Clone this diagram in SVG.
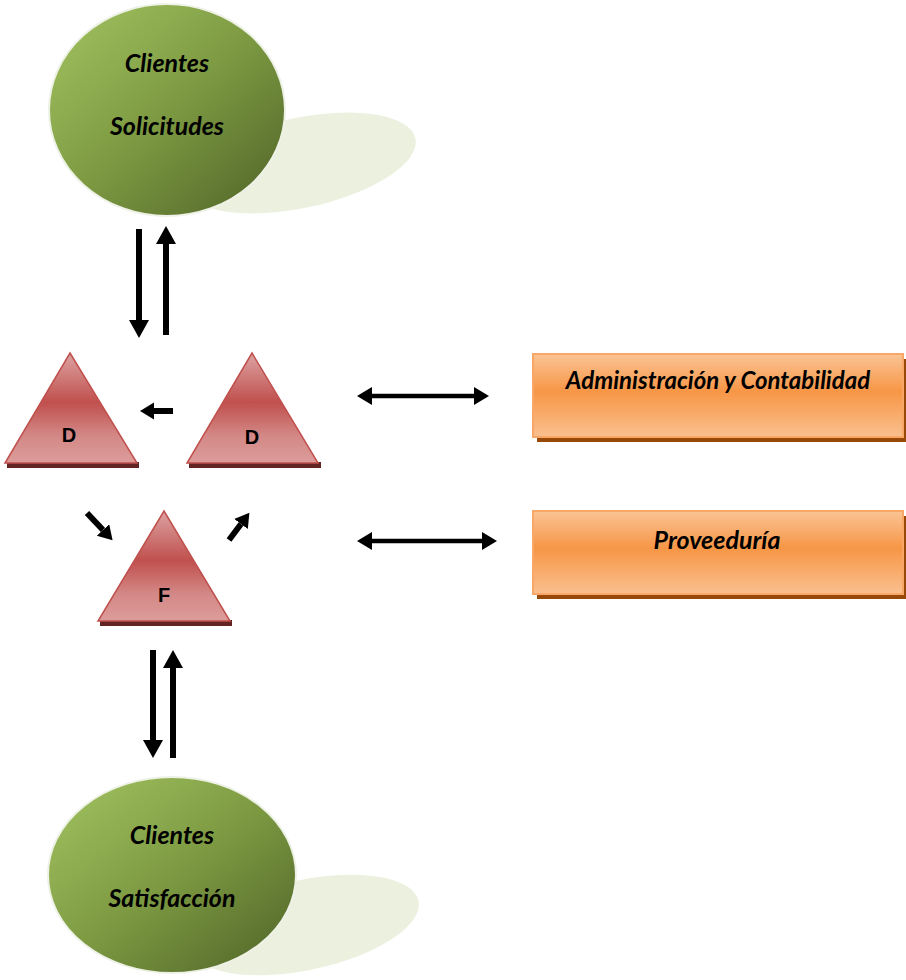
<svg xmlns="http://www.w3.org/2000/svg" width="906" height="980" viewBox="0 0 906 980">
<defs>
<style>
.lbl{font-family:Lato,"Liberation Sans",sans-serif;font-weight:bold;font-style:italic;fill:#000;text-anchor:middle}
.tl{font-family:"Liberation Sans",sans-serif;font-weight:bold;fill:#000;text-anchor:middle;font-size:20px}
.shadow{fill:#ebf1de}
.ball{fill:url(#gGreen);stroke:#eef2e6;stroke-width:2}
.tri{fill:url(#gRed);stroke:#c0504d;stroke-width:1.5}
.trish{fill:#632523}
.box{fill:url(#gOrange);stroke:#f9a766;stroke-width:2}
.boxsh{fill:#984807}
.c{stroke:#000;fill:none}
</style>
<linearGradient id="gGreen" x1="0" y1="0" x2="1" y2="1">
<stop offset="0" stop-color="#a4c462"/>
<stop offset="0.5" stop-color="#7d9a42"/>
<stop offset="1" stop-color="#4e6227"/>
</linearGradient>
<linearGradient id="gRed" x1="0" y1="0" x2="0" y2="1">
<stop offset="0" stop-color="#dca3a2"/>
<stop offset="0.45" stop-color="#c0504d"/>
<stop offset="0.75" stop-color="#d38886"/>
<stop offset="1" stop-color="#dc9c9a"/>
</linearGradient>
<linearGradient id="gOrange" x1="0" y1="0" x2="0" y2="1">
<stop offset="0" stop-color="#fac495"/>
<stop offset="0.45" stop-color="#f79646"/>
<stop offset="1" stop-color="#fac08f"/>
</linearGradient>
<marker id="ahBig" markerUnits="userSpaceOnUse" markerWidth="20" markerHeight="22" refX="0" refY="10" orient="auto-start-reverse">
<path d="M0,0 L18,10 L0,20 z" fill="#000"/>
</marker>
<marker id="ahSmall" markerUnits="userSpaceOnUse" markerWidth="16" markerHeight="18" refX="0" refY="8.5" orient="auto-start-reverse">
<path d="M0,0 L14,8.5 L0,17 z" fill="#000"/>
</marker>
<marker id="ahMid" markerUnits="userSpaceOnUse" markerWidth="17" markerHeight="20" refX="0" refY="9" orient="auto-start-reverse">
<path d="M0,0 L15,9 L0,18 z" fill="#000"/>
</marker>
</defs>
<rect width="906" height="980" fill="#fff"/>

<g id="clientes-solicitudes">
<ellipse class="shadow" cx="300" cy="163" rx="118" ry="45" transform="rotate(-12 300 163)"/>
<ellipse class="ball" cx="167" cy="110" rx="118" ry="106"/>
<text class="lbl" x="167" y="72" font-size="25">Clientes</text>
<text class="lbl" x="167" y="135" font-size="25">Solicitudes</text>
</g>

<g id="d-left">
<rect class="trish" x="7" y="462" width="132" height="6"/>
<polygon class="tri" points="70,353 137,463 5,463"/>
<text class="tl" x="69" y="442">D</text>
</g>

<g id="d-right">
<rect class="trish" x="189" y="462" width="132" height="6"/>
<polygon class="tri" points="252,353 318,463 187,463"/>
<text class="tl" x="252" y="444">D</text>
</g>

<g id="f">
<rect class="trish" x="100" y="620" width="132" height="6"/>
<polygon class="tri" points="164,511 230,621 98,621"/>
<text class="tl" x="164" y="602">F</text>
</g>

<g id="administracion">
<rect class="boxsh" x="537" y="359" width="369" height="83"/>
<rect class="box" x="533" y="354" width="370" height="83"/>
<text class="lbl" x="718" y="389" font-size="24">Administración y Contabilidad</text>
</g>

<g id="proveeduria">
<rect class="boxsh" x="537" y="516" width="369" height="83"/>
<rect class="box" x="533" y="511" width="370" height="83"/>
<text class="lbl" x="717" y="549" font-size="25">Proveeduría</text>
</g>

<g id="clientes-satisfaccion">
<ellipse class="shadow" cx="305" cy="925" rx="116" ry="45" transform="rotate(-12 305 925)"/>
<ellipse class="ball" cx="172" cy="875" rx="124" ry="98"/>
<text class="lbl" x="172" y="844" font-size="25">Clientes</text>
<text class="lbl" x="172" y="907" font-size="25">Satisfacción</text>
</g>

<g id="connectors">
<line class="c" x1="139" y1="229" x2="139" y2="320" stroke-width="6" marker-end="url(#ahBig)"/>
<line class="c" x1="166" y1="335" x2="166" y2="244" stroke-width="6" marker-end="url(#ahBig)"/>
<line class="c" x1="153" y1="650" x2="153" y2="740" stroke-width="6" marker-end="url(#ahBig)"/>
<line class="c" x1="173" y1="758" x2="173" y2="668" stroke-width="6" marker-end="url(#ahBig)"/>
<line class="c" x1="173" y1="411" x2="154" y2="411" stroke-width="6" marker-end="url(#ahSmall)"/>
<line class="c" x1="87" y1="513" x2="103" y2="530" stroke-width="6" marker-end="url(#ahSmall)"/>
<line class="c" x1="229" y1="540" x2="241" y2="524" stroke-width="6" marker-end="url(#ahSmall)"/>
<line class="c" x1="372" y1="396" x2="474" y2="396" stroke-width="4.5" marker-start="url(#ahMid)" marker-end="url(#ahMid)"/>
<line class="c" x1="372" y1="541" x2="482" y2="541" stroke-width="4.5" marker-start="url(#ahMid)" marker-end="url(#ahMid)"/>
</g>
</svg>
